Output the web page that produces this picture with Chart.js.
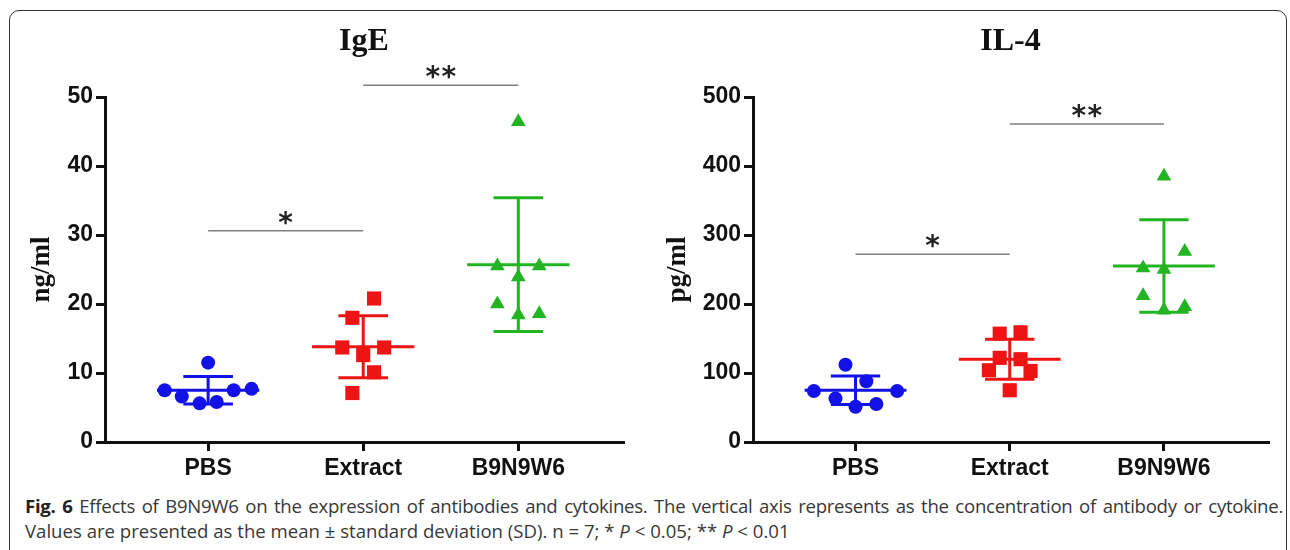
<!DOCTYPE html>
<html>
<head>
<meta charset="utf-8">
<script src="https://cdn.jsdelivr.net/npm/chart.js@4"></script>
<style>
  html, body { margin: 0; padding: 0; background: #fff; }
  body { width: 1290px; height: 550px; position: relative; overflow: hidden; }
  .frame { position: absolute; left: 9px; top: 10px; width: 1278px; height: 560px;
           border: 1.5px solid #333; border-radius: 10px; box-sizing: border-box; }
  .box { position: absolute; top: 0; height: 490px; }
  #boxIge { left: 0; width: 645px; }
  #boxIl4 { left: 645px; width: 645px; }
  .caption { position: absolute; left: 25px; top: 493px; width: 1258px;
             font-family: "Open Sans", sans-serif; font-size: 18.6px; line-height: 25px; color: #383838; }
  .caption .l1 { display: block; text-align: justify; text-align-last: justify; white-space: nowrap;
                 letter-spacing: -0.28px; }
  .caption b { color: #222; }
  .caption i { font-style: italic; }
</style>
</head>
<body>
<div class="frame"></div>
<div class="box" id="boxIge"><canvas id="ige"></canvas></div>
<div class="box" id="boxIl4"><canvas id="il4"></canvas></div>
<div class="caption">
  <span class="l1"><b>Fig. 6</b> Effects of B9N9W6 on the expression of antibodies and cytokines. The vertical axis represents as the concentration of antibody or cytokine.</span>
  Values are presented as the mean ± standard deviation (SD). n = 7; * <i>P</i> &lt; 0.05; ** <i>P</i> &lt; 0.01
</div>
<script>
const groups = ["PBS", "Extract", "B9N9W6"];
const groupColors = ["#1212e6", "#ee1414", "#22b422"];
const groupShapes = ["circle", "rect", "triangle"];

// IgE (ng/ml)
const igeValues = [
    [11.5, 7.5, 6.6, 5.6, 5.8, 7.5, 7.7],
    [20.8, 18.0, 13.7, 13.7, 12.6, 10.1, 7.1],
    [46.4, 25.5, 25.5, 23.9, 20.0, 18.4, 18.6]
];
const igeJitter = [
    [0, -0.28, -0.17, -0.055, 0.055, 0.165, 0.28],
    [0.07, -0.07, -0.135, 0.135, 0, 0.07, -0.07],
    [0, -0.135, 0.135, 0, -0.135, 0, 0.135]
];
const igeMean = [7.5, 13.8, 25.7];
const igeSd = [2.0, 4.5, 9.7];
const igeSig = [[1, 2, 30.6, "*"], [2, 3, 51.7, "**"]];

// IL-4 (pg/ml)
const il4Values = [
    [112, 74, 63, 88, 51, 55, 74],
    [157, 159, 122, 120, 104, 103, 75],
    [385, 276, 252, 250, 212, 191, 196]
];
const il4Jitter = [
    [-0.065, -0.27, -0.13, 0.07, 0, 0.135, 0.27],
    [-0.065, 0.07, -0.065, 0.07, -0.135, 0.135, 0],
    [0, 0.135, -0.135, 0, -0.135, 0, 0.135]
];
const il4Mean = [75, 120, 255];
const il4Sd = [20.5, 29, 67];
const il4Sig = [[1, 2, 272, "*"], [2, 3, 461, "**"]];

const tickFont = { family: "'Liberation Sans', Arial, sans-serif", size: 23, weight: "bold" };

// mean line, SD whiskers, significance bars and the panel title
const summaryPlugin = {
    id: "summary",
    afterDatasetsDraw(chart, args, opts) {
        const { ctx, scales: { x, y } } = chart;
        ctx.save();
        ctx.lineWidth = 3;
        opts.mean.forEach((m, i) => {
            const c = i + 1;
            const yc = y.getPixelForValue(m);
            const yt = y.getPixelForValue(m + opts.sd[i]);
            const yb = y.getPixelForValue(m - opts.sd[i]);
            ctx.strokeStyle = groupColors[i];
            ctx.beginPath();
            ctx.moveTo(x.getPixelForValue(c - 0.33), yc);
            ctx.lineTo(x.getPixelForValue(c + 0.33), yc);
            ctx.moveTo(x.getPixelForValue(c), yt);
            ctx.lineTo(x.getPixelForValue(c), yb);
            ctx.moveTo(x.getPixelForValue(c - 0.16), yt);
            ctx.lineTo(x.getPixelForValue(c + 0.16), yt);
            ctx.moveTo(x.getPixelForValue(c - 0.16), yb);
            ctx.lineTo(x.getPixelForValue(c + 0.16), yb);
            ctx.stroke();
        });
        ctx.restore();
    },
    afterDraw(chart, args, opts) {
        const { ctx, scales: { x, y }, chartArea } = chart;
        ctx.save();
        opts.sig.forEach(s => {
            const x1 = x.getPixelForValue(s[0]);
            const x2 = x.getPixelForValue(s[1]);
            const yy = y.getPixelForValue(s[2]);
            ctx.strokeStyle = "#808080";
            ctx.lineWidth = 1.5;
            ctx.beginPath();
            ctx.moveTo(x1, yy);
            ctx.lineTo(x2, yy);
            ctx.stroke();
            ctx.fillStyle = "#222";
            ctx.font = "bold 28px 'DejaVu Sans'";
            ctx.textAlign = "center";
            ctx.textBaseline = "alphabetic";
            const mid = (x1 + x2) / 2;
            const n = s[3].length;
            for (let k = 0; k < n; k++) {
                ctx.fillText("*", mid + (k - (n - 1) / 2) * 16, yy + 1);
            }
        });
        ctx.fillStyle = "#111";
        ctx.font = "bold 32px 'Liberation Serif', 'Times New Roman', serif";
        ctx.textAlign = "center";
        ctx.textBaseline = "alphabetic";
        ctx.fillText(opts.title, (chartArea.left + chartArea.right) / 2, 50);
        ctx.restore();
    }
};

function makeChart(id, values, jitter, mean, sd, sig, yMax, yStep, yTitle, title, axisWidth, titlePad) {
    const datasets = values.map((vals, i) => ({
        label: groups[i],
        data: vals.map((v, k) => ({ x: i + 1 + jitter[i][k], y: v })),
        pointStyle: groupShapes[i],
        pointRadius: [7, 10, 8.5][i],
        pointHoverRadius: [7, 10, 8.5][i],
        backgroundColor: groupColors[i],
        borderColor: groupColors[i],
        borderWidth: 0
    }));
    return new Chart(document.getElementById(id), {
        type: "scatter",
        data: { datasets },
        options: {
            responsive: true,
            maintainAspectRatio: false,
            animation: false,
            events: [],
            layout: { padding: { top: 97, right: 645 - 623, left: 0, bottom: 0 } },
            plugins: {
                legend: { display: false },
                tooltip: { enabled: false },
                summary: { mean, sd, sig, title }
            },
            scales: {
                x: {
                    type: "linear",
                    min: 0.335,
                    max: 3.675,
                    afterBuildTicks: s => { s.ticks = groups.map((g, i) => ({ value: i + 1 })); },
                    afterFit: s => { s.height = 48; },
                    ticks: {
                        callback: v => groups[v - 1],
                        font: tickFont,
                        color: "#111",
                        padding: 4,
                        maxRotation: 0,
                        autoSkip: false
                    },
                    grid: { drawOnChartArea: false, drawTicks: true, tickLength: 9, color: "#111", lineWidth: 3 },
                    border: { display: true, color: "#111", width: 3 }
                },
                y: {
                    min: 0,
                    max: yMax,
                    afterFit: s => { s.width = axisWidth; },
                    ticks: { stepSize: yStep, font: tickFont, color: "#111", padding: 3 },
                    grid: { drawOnChartArea: false, drawTicks: true, tickLength: 9, color: "#111", lineWidth: 3 },
                    border: { display: true, color: "#111", width: 3 },
                    title: {
                        display: true,
                        text: yTitle,
                        color: "#111",
                        font: { family: "'Liberation Serif', 'Times New Roman', serif", size: 27, weight: "bold" },
                        padding: { top: titlePad, bottom: 0 }
                    }
                }
            }
        },
        plugins: [summaryPlugin]
    });
}

makeChart("ige", igeValues, igeJitter, igeMean, igeSd, igeSig, 50, 10, "ng/ml", "IgE", 105, 26);
makeChart("il4", il4Values, il4Jitter, il4Mean, il4Sd, il4Sig, 500, 100, "pg/ml", "IL-4", 108, 17);
</script>
</body>
</html>
